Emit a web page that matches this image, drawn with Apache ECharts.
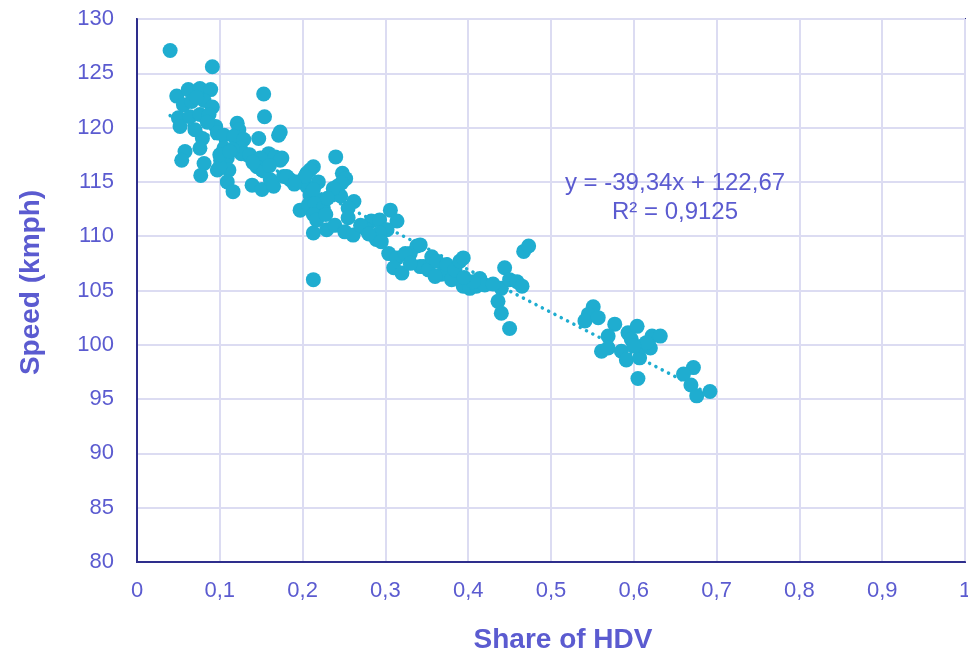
<!DOCTYPE html>
<html>
<head>
<meta charset="utf-8">
<script src="https://cdn.jsdelivr.net/npm/echarts@6/dist/echarts.min.js"></script>
<style>
html,body{margin:0;padding:0;background:#fff;}
#chart{width:968px;height:657px;}
</style>
</head>
<body>
<div id="chart"></div>
<script>
// Observed points: share of HDV (x) and speed in kmph (y)
var shareHDV = [
 0.040,0.091,0.153,0.154,0.048,0.062,0.076,0.089,0.056,0.066,0.081,0.091,0.050,0.052,0.064,0.076,0.087,0.095,0.097,0.105,
 0.079,0.076,0.058,0.054,0.081,0.077,0.105,0.101,0.109,0.111,0.097,0.109,0.116,0.121,0.123,0.117,0.129,0.147,0.171,0.173,
 0.125,0.133,0.139,0.151,0.151,0.159,0.167,0.175,0.161,0.165,0.177,0.185,0.193,0.205,0.213,0.219,0.205,0.209,0.219,0.240,
 0.248,0.252,0.242,0.246,0.262,0.100,0.126,0.136,0.149,0.145,0.153,0.173,0.181,0.209,0.203,0.213,0.197,0.207,0.215,0.225,
 0.213,0.217,0.247,0.237,0.255,0.255,0.213,0.229,0.239,0.251,0.261,0.213,0.283,0.293,0.306,0.314,0.277,0.289,0.302,0.304,
 0.314,0.310,0.320,0.330,0.338,0.342,0.293,0.324,0.342,0.346,0.352,0.356,0.362,0.368,0.374,0.380,0.384,0.390,0.394,0.394,
 0.402,0.410,0.414,0.420,0.406,0.444,0.440,0.450,0.459,0.465,0.436,0.440,0.450,0.467,0.473,0.551,0.545,0.541,0.557,0.577,
 0.569,0.561,0.569,0.593,0.604,0.585,0.591,0.597,0.607,0.611,0.620,0.622,0.632,0.605,0.672,0.660,0.669,0.676,0.692,
 0.085,0.070,0.100,0.115,0.140,0.160,0.190,0.230,0.270,0.280,0.295,0.330,0.360,0.395,0.430,0.615,0.600,0.072,0.112,0.228
];
var speed = [
 127.1,125.6,123.1,121.0,122.9,123.5,123.6,123.5,122.1,122.4,122.5,121.9,120.9,120.1,121.0,121.2,121.2,120.1,119.5,119.3,
 119.0,118.1,117.8,117.0,116.7,115.6,118.1,117.0,117.2,116.1,116.1,115.0,114.1,120.4,119.8,119.2,118.9,119.0,119.3,119.6,
 118.1,117.5,114.7,114.3,116.1,117.6,117.3,117.2,115.2,114.6,115.5,115.2,115.0,115.8,116.4,115.0,114.6,113.8,113.3,117.3,
 115.8,115.3,114.6,113.7,113.2,116.4,117.6,117.5,117.2,116.4,116.0,117.0,115.5,116.1,115.5,114.3,112.4,112.9,113.0,112.6,
 112.0,111.5,114.9,114.4,112.6,111.7,110.3,110.6,111.0,110.4,110.1,106.0,111.4,111.5,112.4,111.4,110.6,109.7,110.6,108.4,
 108.0,107.1,106.6,108.4,109.1,107.2,110.3,108.4,109.2,107.2,106.9,108.1,107.7,106.5,107.4,106.0,106.9,107.7,108.0,105.4,
 105.2,105.4,106.1,105.5,105.8,107.1,105.2,106.0,105.8,105.4,104.0,102.9,101.5,108.6,109.1,103.5,102.8,102.2,102.5,101.9,
 100.8,99.4,99.7,101.1,101.7,99.4,98.6,100.5,98.8,99.9,99.7,100.8,100.8,96.9,97.9,97.3,96.3,95.3,95.7,
 120.5,119.8,117.5,118.0,116.8,116.5,114.8,113.5,111.0,110.2,109.5,107.5,106.3,106.2,105.6,100.2,99.9,122.8,117.8,112.0
];
// Linear trendline endpoints (y = -39,34x + 122,67)
var trendX = [0.04, 0.69];
var trendY = [121.1, 95.5];
var equationLines = ['y = -39,34x + 122,67', 'R² = 0,9125'];

var pts = shareHDV.map(function (x, i) { return [x, speed[i]]; });
var trend = trendX.map(function (x, i) { return [x, trendY[i]]; });

var textColor = '#5b5bd0';
var frameColor = '#2e2e8c';
var gridColor = '#dcdcf2';
var pointColor = '#1fadd0';
var font = 'Liberation Sans';

var chart = echarts.init(document.getElementById('chart'), null, {renderer: 'canvas'});
chart.setOption({
  animation: false,
  backgroundColor: '#ffffff',
  grid: {
    left: 137, right: 3, top: 19, bottom: 95,
    containLabel: false,
    outerBoundsMode: 'none',
    show: true,
    borderColor: frameColor,
    borderWidth: 2
  },
  xAxis: {
    type: 'value',
    min: 0, max: 1, interval: 0.1,
    name: 'Share of HDV',
    nameLocation: 'middle',
    nameGap: 64,
    nameTextStyle: {color: textColor, fontFamily: font, fontWeight: 'bold', fontSize: 28, padding: [0, 0, 0, 24]},
    axisLine: {show: true, lineStyle: {color: frameColor, width: 2}},
    axisTick: {show: false},
    splitLine: {show: true, lineStyle: {color: gridColor, width: 2}},
    axisLabel: {
      color: textColor, fontFamily: font, fontSize: 22, margin: 18,
      formatter: function (v) { return String(+v.toFixed(1)).replace('.', ','); }
    }
  },
  yAxis: {
    type: 'value',
    min: 80, max: 130, interval: 5,
    name: 'Speed (kmph)',
    nameLocation: 'middle',
    nameGap: 92,
    nameRotate: 90,
    nameTextStyle: {color: textColor, fontFamily: font, fontWeight: 'bold', fontSize: 28, padding: [0, 0, 0, 16]},
    axisLine: {show: true, lineStyle: {color: frameColor, width: 2}},
    axisTick: {show: false},
    splitLine: {show: true, lineStyle: {color: gridColor, width: 2}},
    axisLabel: {color: textColor, fontFamily: font, fontSize: 22, margin: 23}
  },
  graphic: [{
    type: 'text',
    x: 675, y: 183,
    style: {
      text: equationLines[0],
      align: 'center', verticalAlign: 'middle',
      fill: textColor,
      font: '24px "Liberation Sans"'
    },
    z: 100
  }, {
    type: 'text',
    x: 675, y: 212,
    style: {
      text: equationLines[1],
      align: 'center', verticalAlign: 'middle',
      fill: textColor,
      font: '24px "Liberation Sans"'
    },
    z: 100
  }],
  series: [
    {
      type: 'line',
      data: trend,
      showSymbol: false,
      silent: true,
      z: 1,
      lineStyle: {color: pointColor, width: 3.5, type: [0.1, 7], cap: 'round'}
    },
    {
      type: 'scatter',
      data: pts,
      symbolSize: 15,
      z: 2,
      itemStyle: {color: pointColor, opacity: 1},
      emphasis: {disabled: true}
    }
  ]
});
</script>
</body>
</html>
